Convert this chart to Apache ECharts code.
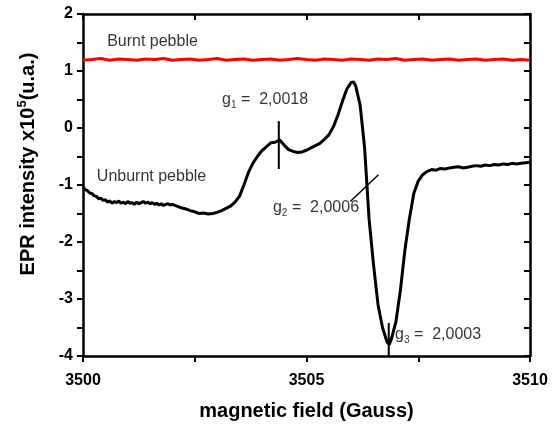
<!DOCTYPE html>
<html>
<head>
<meta charset="utf-8">
<script src="https://cdn.jsdelivr.net/npm/echarts@6/dist/echarts.min.js"></script>
<style>
  html, body { margin: 0; padding: 0; background: #fff; }
  #chart { width: 558px; height: 427px; }
</style>
</head>
<body>
<div id="chart"></div>
<script>
// unburnt pebble spectrum (field in Gauss, intensity x10^5)
const fieldUnburnt = [
  3500.00, 3500.05, 3500.10, 3500.15, 3500.20, 3500.25, 3500.30, 3500.35, 3500.40, 3500.45,
  3500.50, 3500.55, 3500.60, 3500.65, 3500.70, 3500.75, 3500.80, 3500.85, 3500.90, 3500.95,
  3501.00, 3501.05, 3501.10, 3501.15, 3501.20, 3501.25, 3501.30, 3501.35, 3501.40, 3501.45,
  3501.50, 3501.55, 3501.60, 3501.65, 3501.70, 3501.75, 3501.80, 3501.85, 3501.90, 3501.95,
  3502.00, 3502.10, 3502.20, 3502.30, 3502.40, 3502.50, 3502.60, 3502.70, 3502.80, 3502.90,
  3503.00, 3503.10, 3503.20, 3503.30, 3503.40, 3503.50, 3503.60, 3503.70, 3503.80, 3503.90,
  3504.00, 3504.10, 3504.20, 3504.30, 3504.40, 3504.50, 3504.60, 3504.70, 3504.80, 3504.90,
  3505.00, 3505.10, 3505.20, 3505.30, 3505.40, 3505.50, 3505.60, 3505.70, 3505.80, 3505.90,
  3506.00, 3506.05, 3506.10, 3506.20, 3506.30, 3506.40, 3506.50, 3506.60, 3506.70, 3506.80,
  3506.85, 3506.90, 3507.00, 3507.10, 3507.20, 3507.30, 3507.40, 3507.50, 3507.60, 3507.70,
  3507.80, 3507.90, 3508.00, 3508.10, 3508.20, 3508.30, 3508.40, 3508.50, 3508.60, 3508.70,
  3508.80, 3508.90, 3509.00, 3509.10, 3509.20, 3509.30, 3509.40, 3509.50, 3509.60, 3509.70,
  3509.80, 3509.90, 3510.00
];
const eprUnburnt = [
  -1.04, -1.08, -1.10, -1.14, -1.15, -1.19, -1.20, -1.24, -1.23, -1.27,
  -1.26, -1.30, -1.28, -1.32, -1.29, -1.31, -1.28, -1.32, -1.30, -1.33,
  -1.29, -1.32, -1.31, -1.34, -1.30, -1.33, -1.31, -1.29, -1.32, -1.30,
  -1.33, -1.31, -1.34, -1.32, -1.35, -1.33, -1.36, -1.34, -1.33, -1.35,
  -1.34, -1.37, -1.40, -1.42, -1.45, -1.47, -1.50, -1.49, -1.51, -1.50,
  -1.48, -1.45, -1.41, -1.37, -1.30, -1.20, -1.00, -0.78, -0.62, -0.50,
  -0.40, -0.33, -0.26, -0.25, -0.21, -0.30, -0.38, -0.41, -0.43, -0.42,
  -0.39, -0.35, -0.31, -0.27, -0.20, -0.12, 0.02, 0.22, 0.46, 0.68,
  0.80, 0.81, 0.74, 0.40, -0.35, -1.60, -2.40, -3.10, -3.50, -3.75,
  -3.80, -3.70, -3.40, -2.85, -2.15, -1.60, -1.15, -0.93, -0.82, -0.76,
  -0.73, -0.74, -0.71, -0.72, -0.70, -0.69, -0.68, -0.70, -0.69, -0.67,
  -0.66, -0.67, -0.65, -0.66, -0.64, -0.65, -0.63, -0.64, -0.62, -0.63,
  -0.62, -0.61, -0.60
];

// burnt pebble spectrum, flat
const fieldBurnt = [
  3500.0, 3500.2, 3500.4, 3500.6, 3500.8, 3501.0, 3501.2, 3501.4, 3501.6, 3501.8,
  3502.0, 3502.2, 3502.4, 3502.6, 3502.8, 3503.0, 3503.2, 3503.4, 3503.6, 3503.8,
  3504.0, 3504.2, 3504.4, 3504.6, 3504.8, 3505.0, 3505.2, 3505.4, 3505.6, 3505.8,
  3506.0, 3506.2, 3506.4, 3506.6, 3506.8, 3507.0, 3507.2, 3507.4, 3507.6, 3507.8,
  3508.0, 3508.2, 3508.4, 3508.6, 3508.8, 3509.0, 3509.2, 3509.4, 3509.6, 3509.8,
  3510.0
];
const eprBurnt = [
  1.19, 1.20, 1.22, 1.19, 1.21, 1.20, 1.19, 1.21, 1.20, 1.22,
  1.19, 1.20, 1.21, 1.19, 1.20, 1.22, 1.19, 1.20, 1.21, 1.19,
  1.20, 1.21, 1.19, 1.20, 1.22, 1.20, 1.19, 1.21, 1.20, 1.19,
  1.21, 1.20, 1.19, 1.21, 1.20, 1.22, 1.19, 1.20, 1.21, 1.19,
  1.20, 1.21, 1.19, 1.20, 1.21, 1.19, 1.20, 1.21, 1.19, 1.20,
  1.19
];

// g-value markers
const g1Line = [[3504.38, 0.12], [3504.38, -0.72]];
const g2Line = [[3505.98, -1.29], [3506.61, -0.82]];
const g3Line = [[3506.84, -3.42], [3506.84, -4.0]];

// text notes: [x, y, text]
const notes = [
  [3500.54, 1.51, '{t|Burnt pebble}'],
  [3500.31, -0.86, '{t|Unburnt pebble}'],
  [3503.11, 0.49, '{t|g}{s|1}{t| =  2,0018}'],
  [3504.25, -1.40, '{t|g}{s|2}{t| =  2,0006}'],
  [3506.98, -3.63, '{t|g}{s|3}{t| =  2,0003}']
];

const xTicks = { min: 3500, max: 3510, interval: 5 };
const yTicks = { min: -4, max: 2, interval: 1 };

const font = 'Liberation Sans, Arial, sans-serif';
const chart = echarts.init(document.getElementById('chart'));

const zip = (xs, ys) => xs.map((x, i) => [x, ys[i]]);

const axisLine = { show: true, onZero: false, lineStyle: { color: '#000', width: 2.5 } };
const tickStyle = { color: '#000', width: 2 };

const option = {
  backgroundColor: '#fff',
  animation: false,
  grid: { left: 83, right: 28, top: 14, bottom: 71, containLabel: false },
  xAxis: [
    {
      type: 'value',
      min: xTicks.min,
      max: xTicks.max,
      interval: xTicks.interval,
      position: 'bottom',
      axisLine: axisLine,
      axisTick: { show: true, inside: false, length: 6, lineStyle: tickStyle },
      minorTick: { show: true, splitNumber: 2, length: 6, lineStyle: tickStyle },
      splitLine: { show: false },
      axisLabel: {
        color: '#000', fontFamily: font, fontWeight: 'bold', fontSize: 16, margin: 17,
        formatter: v => String(v)
      },
      name: 'magnetic field (Gauss)',
      nameLocation: 'middle',
      nameGap: 45,
      nameTextStyle: { color: '#000', fontFamily: font, fontWeight: 'bold', fontSize: 20 }
    },
    {
      type: 'value',
      min: xTicks.min,
      max: xTicks.max,
      interval: xTicks.interval,
      position: 'top',
      axisLine: axisLine,
      axisTick: { show: true, inside: true, length: 6, lineStyle: tickStyle },
      minorTick: { show: true, splitNumber: 2, length: 6, lineStyle: tickStyle },
      splitLine: { show: false },
      axisLabel: { show: false }
    }
  ],
  yAxis: [
    {
      type: 'value',
      min: yTicks.min,
      max: yTicks.max,
      interval: yTicks.interval,
      position: 'left',
      axisLine: axisLine,
      axisTick: { show: true, inside: false, length: 6, lineStyle: tickStyle },
      minorTick: { show: true, splitNumber: 2, length: 6, lineStyle: tickStyle },
      splitLine: { show: false },
      axisLabel: { color: '#000', fontFamily: font, fontWeight: 'bold', fontSize: 16, margin: 10 }
    },
    {
      type: 'value',
      min: yTicks.min,
      max: yTicks.max,
      interval: yTicks.interval,
      position: 'right',
      axisLine: axisLine,
      axisTick: { show: true, inside: true, length: 6, lineStyle: tickStyle },
      minorTick: { show: true, splitNumber: 2, length: 6, lineStyle: tickStyle },
      splitLine: { show: false },
      axisLabel: { show: false }
    }
  ],
  graphic: [
    {
      type: 'text',
      x: 28,
      y: 164,
      rotation: Math.PI / 2,
      style: {
        text: '{t|EPR intensity x10}{p|5}{t|(u.a.)}',
        align: 'center',
        verticalAlign: 'middle',
        fill: '#000',
        rich: {
          t: { fontFamily: font, fontWeight: 'bold', fontSize: 20, fill: '#000' },
          p: { fontFamily: font, fontWeight: 'bold', fontSize: 13, fill: '#000', padding: [0, 0, 12, 0] }
        }
      }
    }
  ],
  series: [
    {
      name: 'Burnt pebble',
      type: 'line',
      data: zip(fieldBurnt, eprBurnt),
      showSymbol: false,
      lineStyle: { color: '#ff0000', width: 3 },
      z: 3
    },
    {
      name: 'Unburnt pebble',
      type: 'line',
      data: zip(fieldUnburnt, eprUnburnt),
      showSymbol: false,
      lineStyle: { color: '#000', width: 3 },
      z: 3
    },
    { type: 'line', data: g1Line, showSymbol: false, lineStyle: { color: '#000', width: 2 }, z: 4 },
    { type: 'line', data: g2Line, showSymbol: false, lineStyle: { color: '#000', width: 1.5 }, z: 4 },
    { type: 'line', data: g3Line, showSymbol: false, lineStyle: { color: '#000', width: 2 }, z: 4 },
    {
      type: 'scatter',
      data: notes,
      symbolSize: 0,
      silent: true,
      label: {
        show: true,
        position: 'right',
        distance: 0,
        formatter: p => p.data[2],
        rich: {
          t: { fontFamily: font, fontSize: 16, color: '#000' },
          s: { fontFamily: font, fontSize: 10, color: '#000', padding: [10, 0, 0, 0] }
        }
      },
      z: 5
    }
  ]
};

chart.setOption(option);
</script>
</body>
</html>
